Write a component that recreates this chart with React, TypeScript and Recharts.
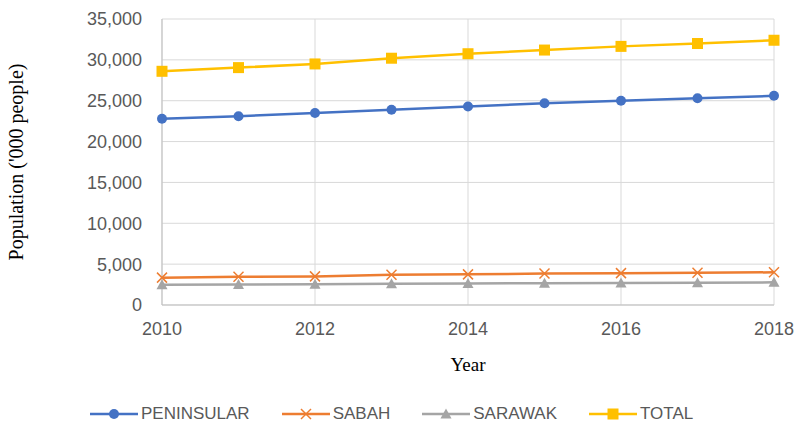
import { LineChart, Line, XAxis, YAxis, CartesianGrid, Legend, Label } from "recharts"

const years = [2010, 2011, 2012, 2013, 2014, 2015, 2016, 2017, 2018]
const peninsular = [22800, 23100, 23500, 23900, 24300, 24700, 25000, 25300, 25600]
const sabah = [3350, 3450, 3500, 3700, 3750, 3850, 3900, 3950, 4000]
const sarawak = [2470, 2500, 2550, 2600, 2640, 2660, 2700, 2720, 2770]
const total = [28600, 29050, 29500, 30200, 30750, 31200, 31650, 32000, 32400]
const yTicks = [0, 5000, 10000, 15000, 20000, 25000, 30000, 35000]
const xTicks = [2010, 2012, 2014, 2016, 2018]

const data = years.map((year, i) => ({
    year,
    PENINSULAR: peninsular[i],
    SABAH: sabah[i],
    SARAWAK: sarawak[i],
    TOTAL: total[i],
}))

const BLUE = "#4472C4"
const ORANGE = "#ED7D31"
const GRAY = "#A5A5A5"
const YELLOW = "#FFC000"

function Marker({ kind, cx, cy }: { kind: string; cx: number; cy: number }) {
    if (kind === "circle") return <circle cx={cx} cy={cy} r={5} fill={BLUE} />
    if (kind === "square")
        return <rect x={cx - 5.5} y={cy - 5.5} width={11} height={11} fill={YELLOW} />
    if (kind === "triangle")
        return (
            <polygon
                points={`${cx},${cy - 5.5} ${cx + 5.5},${cy + 4.5} ${cx - 5.5},${cy + 4.5}`}
                fill={GRAY}
            />
        )
    return (
        <g stroke={ORANGE} strokeWidth={1.5}>
            <line x1={cx - 5} y1={cy - 5} x2={cx + 5} y2={cy + 5} />
            <line x1={cx - 5} y1={cy + 5} x2={cx + 5} y2={cy - 5} />
        </g>
    )
}

const series = [
    { key: "PENINSULAR", color: BLUE, kind: "circle" },
    { key: "SABAH", color: ORANGE, kind: "x" },
    { key: "SARAWAK", color: GRAY, kind: "triangle" },
    { key: "TOTAL", color: YELLOW, kind: "square" },
]

function LegendContent() {
    return (
        <div
            style={{
                display: "flex",
                alignItems: "center",
                height: 44,
                paddingLeft: 90,
                fontFamily: "'Liberation Sans', Arial, sans-serif",
                fontSize: 17,
                color: "#595959",
            }}
        >
            {series.map((s) => (
                <div key={s.key} style={{ display: "flex", alignItems: "center", marginRight: 32, marginTop: 24 }}>
                    <svg width={48} height={14}>
                        <line x1={0} y1={7} x2={48} y2={7} stroke={s.color} strokeWidth={2.5} />
                        <Marker kind={s.kind} cx={24} cy={7} />
                    </svg>
                    <span style={{ marginLeft: 3 }}>{s.key}</span>
                </div>
            ))}
        </div>
    )
}

const tickStyle = { fill: "#595959", fontSize: 18, fontFamily: "'Liberation Sans', Arial, sans-serif" }

export default function App() {
    return (
        <div style={{ position: "absolute", left: 0, top: 0, background: "#fff" }}>
            <LineChart width={799} height={424} data={data} margin={{ top: 19, right: 25, left: 0, bottom: 0 }}>
                <CartesianGrid stroke="#d9d9d9" />
                <XAxis
                    dataKey="year"
                    type="number"
                    domain={[2010, 2018]}
                    ticks={xTicks}
                    height={75}
                    tickLine={false}
                    tickMargin={11}
                    axisLine={{ stroke: "#bfbfbf" }}
                    tick={tickStyle}
                >
                    <Label
                        value="Year"
                        position="insideBottom"
                        offset={9}
                        style={{ fill: "#000", fontSize: 19, fontFamily: "'Liberation Serif', 'Times New Roman', serif" }}
                    />
                </XAxis>
                <YAxis
                    width={162}
                    domain={[0, 35000]}
                    ticks={yTicks}
                    tickLine={false}
                    tickMargin={14}
                    axisLine={{ stroke: "#bfbfbf" }}
                    tick={tickStyle}
                    tickFormatter={(v: number) => v.toLocaleString("en-US")}
                >
                    <Label
                        value="Population ('000 people)"
                        angle={-90}
                        position="insideLeft"
                        offset={16}
                        style={{
                            textAnchor: "middle",
                            fill: "#000",
                            fontSize: 20,
                            fontFamily: "'Liberation Serif', 'Times New Roman', serif",
                        }}
                    />
                </YAxis>
                <Legend verticalAlign="bottom" height={44} content={() => <LegendContent />} />
                {series.map((s) => (
                    <Line
                        key={s.key}
                        dataKey={s.key}
                        stroke={s.color}
                        strokeWidth={2.5}
                        isAnimationActive={false}
                        dot={(p: any) => <Marker key={`${s.key}-${p.index}`} kind={s.kind} cx={p.cx} cy={p.cy} />}
                        activeDot={false}
                    />
                ))}
            </LineChart>
        </div>
    )
}
